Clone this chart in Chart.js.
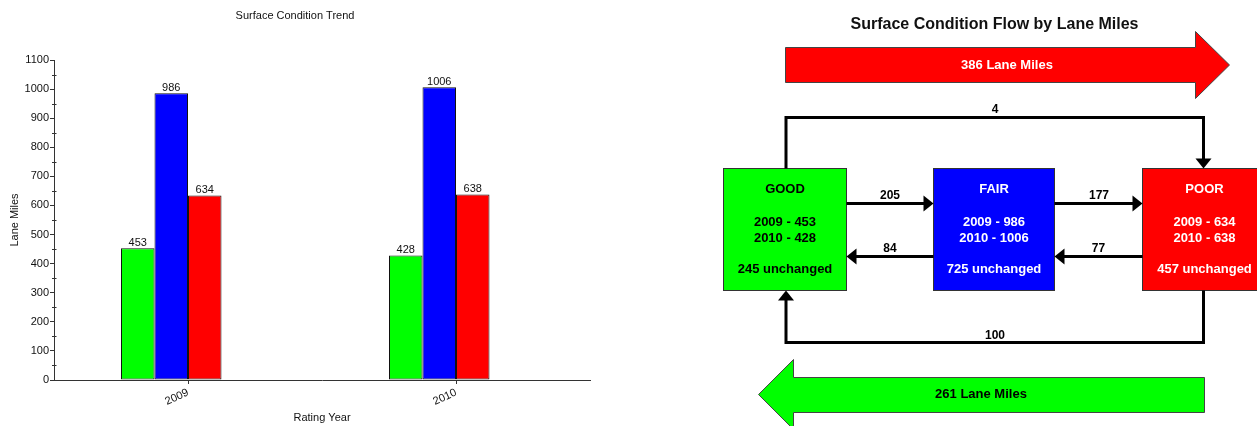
<!DOCTYPE html>
<html>
<head>
<meta charset="utf-8">
<script src="https://cdn.jsdelivr.net/npm/chart.js@4/dist/chart.umd.min.js"></script>
<style>
html,body{margin:0;padding:0;background:#fff;width:1257px;height:426px;overflow:hidden;}
#wrap{position:relative;width:1257px;height:426px;}
#trendBox{position:absolute;left:0;top:0;width:620px;height:426px;}
#flow{position:absolute;left:0;top:0;}
#flow text{font-family:"Liberation Sans",Arial,Helvetica,sans-serif;font-weight:bold;}
</style>
</head>
<body>
<div id="wrap">
  <div id="trendBox"><canvas id="trend" width="620" height="426"></canvas></div>
  <svg id="flow" width="1257" height="426" xmlns="http://www.w3.org/2000/svg"></svg>
</div>
<script>
// ---------- data ----------
const trendTitle = 'Surface Condition Trend';
const xAxisTitle = 'Rating Year';
const yAxisTitle = 'Lane Miles';
const years = ['2009', '2010'];
const goodMiles = [453, 428];
const fairMiles = [986, 1006];
const poorMiles = [634, 638];
const reservedSlot = [null, null];   // empty 4th series slot of the original chart
const yTickLabels = ['0', '100', '200', '300', '400', '500', '600', '700', '800', '900', '1000', '1100'];
const yMin = 0, yMax = 1100, yStep = 100;

const flowTitle = 'Surface Condition Flow by Lane Miles';
const conditions = ['GOOD', 'FAIR', 'POOR'];
const unchangedMiles = [245, 725, 457];
const flowsDown = [205, 177];   // GOOD→FAIR, FAIR→POOR
const flowsUp = [84, 77];       // FAIR→GOOD, POOR→FAIR
const skipFlows = [4, 100];     // GOOD→POOR, POOR→GOOD
const totalsDown = [386];       // lane miles worsened
const totalsUp = [261];         // lane miles improved

// ---------- bar chart ----------
Chart.defaults.font.family = '"Liberation Sans", Arial, Helvetica, sans-serif';
Chart.defaults.font.size = 11;
Chart.defaults.color = '#111';

const barValueLabels = {
  id: 'barValueLabels',
  afterDatasetsDraw(chart) {
    const ctx = chart.ctx;
    ctx.save();
    ctx.font = '11px "Liberation Sans", Arial, sans-serif';
    ctx.fillStyle = '#111';
    ctx.textAlign = 'center';
    ctx.textBaseline = 'alphabetic';
    chart.data.datasets.forEach((ds, i) => {
      chart.getDatasetMeta(i).data.forEach((bar, j) => {
        const v = ds.data[j];
        if (v === null || v === undefined) return;
        ctx.fillText(String(v), bar.x, bar.y - 2.5);
      });
    });
    ctx.restore();
  }
};

const minorTicks = {
  id: 'minorTicks',
  afterDraw(chart) {
    const y = chart.scales.y;
    const ctx = chart.ctx;
    ctx.save();
    ctx.strokeStyle = '#333';
    ctx.lineWidth = 1;
    for (let v = y.min + yStep / 2; v < y.max; v += yStep) {
      const p = Math.round(y.getPixelForValue(v)) + 0.5;
      ctx.beginPath();
      ctx.moveTo(y.right - 2, p);
      ctx.lineTo(y.right + 2.5, p);
      ctx.stroke();
    }
    ctx.restore();
  }
};

const barStyle = { borderColor: '#111', borderWidth: 1, borderSkipped: false, barPercentage: 1, categoryPercentage: 0.5 };

new Chart(document.getElementById('trend'), {
  type: 'bar',
  data: {
    labels: years,
    datasets: [
      Object.assign({ label: 'Good', data: goodMiles, backgroundColor: '#00ff00' }, barStyle),
      Object.assign({ label: 'Fair', data: fairMiles, backgroundColor: '#0000ff' }, barStyle),
      Object.assign({ label: 'Poor', data: poorMiles, backgroundColor: '#ff0000' }, barStyle),
      Object.assign({ label: '', data: reservedSlot, backgroundColor: 'rgba(0,0,0,0)' }, barStyle)
    ]
  },
  options: {
    responsive: false,
    animation: false,
    layout: { padding: { left: 0, right: 30, top: 0, bottom: 0 } },
    plugins: {
      legend: { display: false },
      tooltip: { enabled: false },
      title: {
        display: true, text: trendTitle, color: '#111',
        font: { size: 11, weight: 'normal' },
        padding: { top: 9.4, bottom: 37.4 }
      }
    },
    scales: {
      x: {
        offset: true,
        grid: { display: true, offset: false, drawOnChartArea: false, drawTicks: true, tickLength: 4, color: '#333' },
        border: { display: true, color: '#333', width: 1 },
        ticks: { minRotation: 25, maxRotation: 25, padding: 2, color: '#111' },
        title: { display: true, text: xAxisTitle, color: '#111', font: { size: 11 }, padding: { top: 0, bottom: 1.4 } },
        afterFit(s) { s.height = 46; }
      },
      y: {
        min: yMin, max: yMax,
        ticks: {
          stepSize: yStep, padding: 1, color: '#111',
          callback: (v) => yTickLabels[Math.round(v / yStep)]
        },
        grid: { drawOnChartArea: false, drawTicks: true, tickLength: 4, color: '#333' },
        border: { display: true, color: '#333', width: 1 },
        title: { display: true, text: yAxisTitle, color: '#111', font: { size: 11 }, padding: { top: 8.4, bottom: 0 } },
        afterFit(s) { s.width = 54; }
      }
    }
  },
  plugins: [barValueLabels, minorTicks]
});

// ---------- flow diagram ----------
const svg = document.getElementById('flow');
const NS = 'http://www.w3.org/2000/svg';
function el(tag, attrs, txt) {
  const e = document.createElementNS(NS, tag);
  for (const k in attrs) e.setAttribute(k, attrs[k]);
  if (txt !== undefined) e.textContent = txt;
  svg.appendChild(e);
  return e;
}
function label(x, y, txt, size, color) {
  return el('text', { x: x, y: y, 'text-anchor': 'middle', 'font-size': size, fill: color || '#000' }, txt);
}
function pts(a) { return a.map(p => p.join(',')).join(' '); }

label(994.5, 29, flowTitle, 16, '#111');

// big red arrow (worsened)
el('polygon', { points: pts([[785.5,47.5],[1195.5,47.5],[1195.5,31.5],[1229.5,65],[1195.5,98.5],[1195.5,82.5],[785.5,82.5]]), fill: '#ff0000', stroke: '#444', 'stroke-width': 1 });
label(1007, 69, totalsDown[0] + ' Lane Miles', 13, '#fff');

// big green arrow (improved)
el('polygon', { points: pts([[1204.5,377.5],[793.5,377.5],[793.5,359.5],[758.5,394.5],[793.5,429.5],[793.5,412.5],[1204.5,412.5]]), fill: '#00ff00', stroke: '#444', 'stroke-width': 1 });
label(981, 398, totalsUp[0] + ' Lane Miles', 13, '#000');

// boxes
const boxLeft = [723.5, 933.5, 1142.5];
const boxW = [123, 121, 124];
const boxTop = 168.5, boxH = 122;
const boxFill = ['#00ff00', '#0000ff', '#ff0000'];
const boxText = ['#000', '#fff', '#fff'];
const yearValues = [goodMiles, fairMiles, poorMiles];
conditions.forEach((c, i) => {
  el('rect', { x: boxLeft[i], y: boxTop, width: boxW[i], height: boxH, fill: boxFill[i], stroke: '#333', 'stroke-width': 1 });
  const cx = boxLeft[i] + boxW[i] / 2;
  label(cx, 193, c, 13, boxText[i]);
  label(cx, 226, years[0] + ' - ' + yearValues[i][0], 13, boxText[i]);
  label(cx, 242, years[1] + ' - ' + yearValues[i][1], 13, boxText[i]);
  label(cx, 273, unchangedMiles[i] + ' unchanged', 13, boxText[i]);
});

// connectors
const lineStyle = { fill: 'none', stroke: '#000', 'stroke-width': 3, 'stroke-linejoin': 'miter' };
function head(tipX, tipY, dir) {
  const L = 10, W = 8;
  let p;
  if (dir === 'right') p = [[tipX, tipY], [tipX - L, tipY - W], [tipX - L, tipY + W]];
  if (dir === 'left') p = [[tipX, tipY], [tipX + L, tipY - W], [tipX + L, tipY + W]];
  if (dir === 'down') p = [[tipX, tipY], [tipX - W, tipY - L], [tipX + W, tipY - L]];
  if (dir === 'up') p = [[tipX, tipY], [tipX - W, tipY + L], [tipX + W, tipY + L]];
  el('polygon', { points: pts(p), fill: '#000' });
}
const rowDown = 203.5, rowUp = 256.5;
const gR = boxLeft[0] + boxW[0], fL = boxLeft[1], fR = boxLeft[1] + boxW[1], pL = boxLeft[2];
// GOOD -> FAIR
el('polyline', Object.assign({ points: pts([[gR, rowDown], [fL - 9, rowDown]]) }, lineStyle));
head(fL, rowDown, 'right');
label((gR + fL) / 2, 199, String(flowsDown[0]), 12);
// FAIR -> POOR
el('polyline', Object.assign({ points: pts([[fR, rowDown], [pL - 9, rowDown]]) }, lineStyle));
head(pL, rowDown, 'right');
label((fR + pL) / 2 + 0.5, 199, String(flowsDown[1]), 12);
// FAIR -> GOOD
el('polyline', Object.assign({ points: pts([[fL, rowUp], [gR + 9, rowUp]]) }, lineStyle));
head(gR, rowUp, 'left');
label((gR + fL) / 2, 252, String(flowsUp[0]), 12);
// POOR -> FAIR
el('polyline', Object.assign({ points: pts([[pL, rowUp], [fR + 9, rowUp]]) }, lineStyle));
head(fR, rowUp, 'left');
label((fR + pL) / 2, 252, String(flowsUp[1]), 12);
// GOOD -> POOR (top loop)
const gX = 786, pX = 1203.5;
el('polyline', Object.assign({ points: pts([[gX, boxTop], [gX, 117.5], [pX, 117.5], [pX, boxTop - 9]]) }, lineStyle));
head(pX, boxTop, 'down');
label(995, 113, String(skipFlows[0]), 12);
// POOR -> GOOD (bottom loop)
const boxBottom = boxTop + boxH;
el('polyline', Object.assign({ points: pts([[pX, boxBottom], [pX, 342.5], [gX, 342.5], [gX, boxBottom + 9]]) }, lineStyle));
head(gX, boxBottom, 'up');
label(995, 339, String(skipFlows[1]), 12);
</script>
</body>
</html>
